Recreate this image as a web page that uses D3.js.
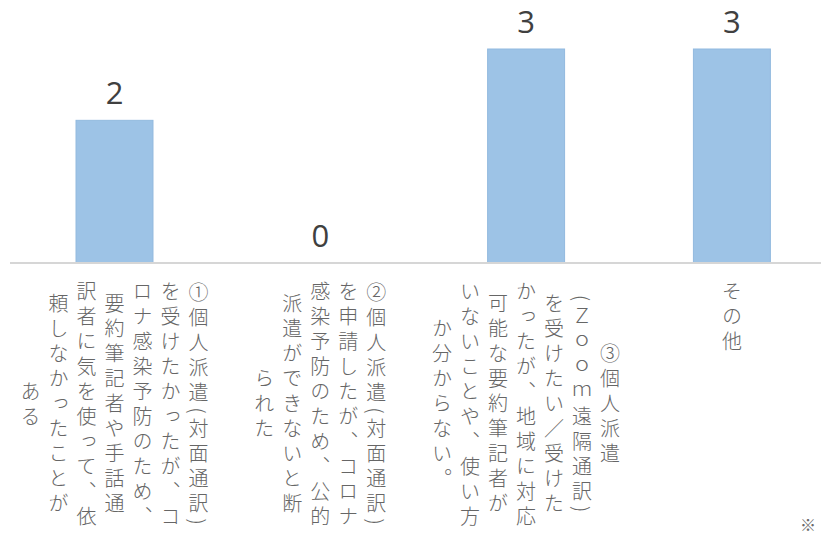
<!DOCTYPE html>
<html>
<head>
<meta charset="utf-8">
<script src="https://cdn.jsdelivr.net/npm/d3@7"></script>
<style>
  html, body { margin: 0; padding: 0; background: #fff; overflow: hidden; }
  svg { display: block; }
</style>
</head>
<body>
<svg id="chart" width="821" height="539"></svg>
<script>
// ---- data ----
const categories = [
  "①個人派遣(対面通訳)を受けたかったが、コロナ感染予防のため、要約筆記者や手話通訳者に気を使って、依頼しなかったことがある",
  "②個人派遣(対面通訳)を申請したが、コロナ感染予防のため、公的派遣ができないと断られた",
  "③個人派遣(Ｚｏｏｍ遠隔通訳)を受けたい／受けたかったが、地域に対応可能な要約筆記者がいないことや、使い方か分からない。",
  "その他"
];
const values = [2, 0, 3, 3];
const labelLines = [
  ["①個人派遣(対面通訳)", "を受けたかったが、コ", "ロナ感染予防のため、", "要約筆記者や手話通", "訳者に気を使って、依", "頼しなかったことが", "ある"],
  ["②個人派遣(対面通訳)", "を申請したが、コロナ", "感染予防のため、公的", "派遣ができないと断", "られた"],
  ["③個人派遣", "(Ｚｏｏｍ遠隔通訳)", "を受けたい／受けた", "かったが、地域に対応", "可能な要約筆記者が", "いないことや、使い方", "か分からない。"],
  ["その他"]
];
const footnote = "※";

// ---- layout ----
const svg = d3.select("#chart");
const baseY = 263, topY = 49;
const x = d3.scaleBand()
  .domain(categories)
  .range([11.6, 834.8])
  .paddingInner(0.626)
  .paddingOuter(0.313);
const y = d3.scaleLinear().domain([0, d3.max(values)]).range([baseY, topY]);

// bars
svg.append("g").selectAll("rect")
  .data(categories.map((c, i) => ({c, v: values[i]})))
  .join("rect")
  .attr("x", d => x(d.c))
  .attr("y", d => y(d.v))
  .attr("width", x.bandwidth())
  .attr("height", d => y(0) - y(d.v))
  .attr("fill", "#9dc3e6")
  .attr("stroke", "#92badf")
  .attr("stroke-width", 1);

// axis line
svg.append("line")
  .attr("x1", 10).attr("x2", 821)
  .attr("y1", y(0)).attr("y2", y(0))
  .attr("stroke", "#d6d6d6")
  .attr("stroke-width", 2);

// value labels
svg.append("g").selectAll("text")
  .data(categories.map((c, i) => ({c, v: values[i]})))
  .join("text")
  .attr("x", d => x(d.c) + x.bandwidth() / 2)
  .attr("y", d => y(d.v) - 16)
  .attr("text-anchor", "middle")
  .attr("font-family", "'Open Sans', 'Liberation Sans', sans-serif")
  .attr("font-size", 31)
  .attr("fill", "#404040")
  .text(d => d.v);

// vertical category labels
const colGap = 28, labelTop = 281, fs = 20, ls = 5;
categories.forEach((c, i) => {
  const lines = labelLines[i];
  const cx = x(c) + x.bandwidth() / 2;
  const g = svg.append("g");
  const texts = lines.map((ln, j) => g.append("text")
    .attr("x", cx + (lines.length - 1) / 2 * colGap - j * colGap)
    .attr("y", 0)
    .attr("text-anchor", "middle")
    .style("writing-mode", "vertical-rl")
    .style("letter-spacing", ls + "px")
    .attr("font-family", "'Noto Sans CJK JP', sans-serif")
    .attr("font-size", fs)
    .attr("font-weight", 300)
    .attr("fill", "#666666")
    .text(ln));
  let maxLen = 0;
  texts.forEach((t, j) => {
    let len = 0;
    try { len = t.node().getComputedTextLength(); } catch (e) { len = 0; }
    if (!len) len = lines[j].length * (fs + ls);
    maxLen = Math.max(maxLen, len);
  });
  texts.forEach(t => t.attr("y", labelTop + maxLen / 2));
});

// footnote mark
svg.append("text")
  .attr("x", 808).attr("y", 531)
  .attr("text-anchor", "middle")
  .attr("font-family", "'Noto Sans CJK JP', sans-serif")
  .attr("font-size", 16)
  .attr("fill", "#6a6a6a")
  .text(footnote);
</script>
</body>
</html>
